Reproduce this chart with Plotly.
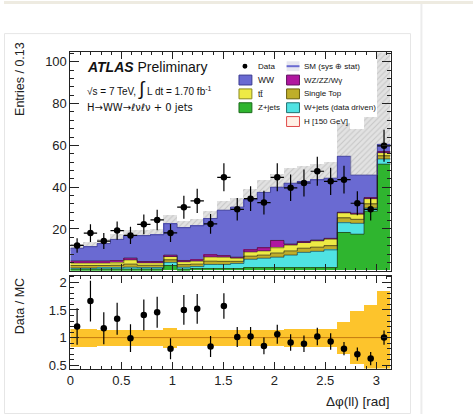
import numpy as np
import plotly.graph_objects as go

W, H = 473, 418
def px(v): return v / W
def py(v): return 1 - v / H

# ---------------- data ----------------
N_BINS = 24
BIN_WIDTH = np.pi / N_BINS
bin_low = np.arange(N_BINS) * BIN_WIDTH
bin_centers = bin_low + BIN_WIDTH / 2
bin_edges = np.append(bin_low, np.pi)

data = [12.1, 18.0, 14.2, 19.2, 16.9, 22.2, 24.3, 18.1, 30.4, 33.4, 22.4, 44.7,
        29.4, 34.5, 32.6, 44.7, 39.7, 42.0, 47.6, 42.8, 43.6, 32.3, 29.4, 59.8]
data_err = [3.5, 4.2, 3.8, 4.4, 4.1, 4.7, 4.9, 4.3, 5.5, 5.8, 4.7, 6.7,
            5.4, 5.9, 5.7, 6.7, 6.3, 6.5, 6.9, 6.5, 6.6, 5.7, 5.4, 7.7]

zjets = [0.8, 0.8, 0.8, 0.8, 0.8, 0.8, 0.8, 2.5, 0.8, 1.0, 1.0, 1.0,
         1.0, 1.5, 1.5, 1.5, 1.5, 1.5, 1.5, 1.5, 18.3, 17.5, 28.5, 51.0]
wjets = [0.5, 0.5, 0.6, 0.6, 0.9, 0.7, 0.7, 1.5, 0.9, 1.0, 2.0, 2.0,
         2.5, 4.0, 4.5, 5.0, 6.0, 7.3, 7.8, 8.5, 4.7, 5.2, 1.5, 2.5]
stop = [1.2, 1.2, 1.1, 1.2, 1.5, 1.1, 1.1, 1.2, 1.2, 1.2, 1.6, 1.5,
        1.0, 1.5, 1.5, 2.0, 2.0, 2.0, 2.0, 2.0, 2.3, 1.9, 2.0, 1.5]
ttbar = [1.2, 1.2, 1.2, 1.2, 2.0, 1.2, 1.2, 1.6, 1.4, 1.4, 2.0, 2.0,
         1.5, 2.0, 2.0, 2.5, 2.8, 2.7, 3.0, 3.1, 2.4, 2.4, 2.5, 1.5]
diboson = [1.0, 1.0, 1.0, 1.0, 0.9, 0.6, 0.6, 0.7, 0.6, 0.6, 1.0, 0.7,
           0.5, 1.0, 1.5, 3.5, 0.5, 0.5, 0.4, 0.4, 0.3, 0.5, 0.5, 0.5]
ww = [6.1, 6.8, 8.3, 10.2, 10.7, 12.4, 12.8, 15.0, 15.7, 16.3, 17.4, 21.8,
      24.0, 24.0, 26.5, 25.5, 29.1, 28.7, 28.8, 28.8, 26.8, 18.3, 10.8, 3.5]

rel_err = [0.16, 0.16, 0.15, 0.15, 0.15, 0.15, 0.15, 0.18, 0.14, 0.14, 0.14, 0.14,
           0.14, 0.14, 0.15, 0.15, 0.17, 0.17, 0.17, 0.17, 0.29, 0.48, 0.60, 0.85]

ratio = [1.20, 1.66, 1.17, 1.34, 0.99, 1.41, 1.46, 0.80, 1.50, 1.52, 0.84, 1.57,
         1.01, 1.02, 0.85, 1.06, 0.91, 0.89, 1.02, 0.93, 0.80, 0.70, 0.62, 1.00]
ratio_err = [0.33, 0.37, 0.29, 0.29, 0.25, 0.28, 0.28, 0.19, 0.27, 0.27, 0.19, 0.23,
             0.18, 0.17, 0.15, 0.17, 0.15, 0.15, 0.16, 0.15, 0.12, 0.12, 0.12, 0.13]

components = [
    ("Z+jets", zjets, "#2fb52f"),
    ("W+jets (data driven)", wjets, "#4fe3e3"),
    ("Single Top", stop, "#bfae2a"),
    ("tt", ttbar, "#eeea45"),
    ("WZ/ZZ/Wg", diboson, "#b0169f"),
    ("WW", ww, "#6a6ad2"),
]

FONT = "Liberation Sans, Arial, sans-serif"

fig = go.Figure()

# ---------------- main panel ----------------
mc_total = np.sum([np.array(c[1]) for c in components], axis=0)
mc_err = mc_total * np.array(rel_err)

fig.add_trace(go.Bar(
    x=bin_centers, y=2 * mc_err, base=mc_total - mc_err, width=BIN_WIDTH,
    marker=dict(color="#dcdcdc", line=dict(width=0),
                pattern=dict(shape="/", fgcolor="#a8a8a8", bgcolor="#e2e2e2",
                             size=4, solidity=0.25)),
    xaxis="x", yaxis="y", showlegend=False, hoverinfo="skip"))

cum = np.zeros(N_BINS)
tops = []
for name, vals, col in components:
    vals = np.array(vals)
    fig.add_trace(go.Bar(
        x=bin_centers, y=vals, base=cum.copy(), width=BIN_WIDTH,
        marker=dict(color=col, line=dict(width=0)),
        xaxis="x", yaxis="y", showlegend=False, name=name))
    cum = cum + vals
    tops.append(cum.copy())

for i, t in enumerate(tops):
    col = "rgba(30,30,30,0.75)" if i < len(tops) - 1 else "rgba(60,60,140,0.9)"
    fig.add_trace(go.Scatter(
        x=bin_edges, y=np.append(t, t[-1]), mode="lines",
        line=dict(shape="hv", color=col, width=0.8),
        xaxis="x", yaxis="y", showlegend=False, hoverinfo="skip"))

fig.add_trace(go.Scatter(
    x=bin_centers, y=data, mode="markers",
    marker=dict(color="black", size=6.5),
    error_y=dict(type="data", array=data_err, color="black", thickness=1.2, width=0),
    error_x=dict(type="constant", value=BIN_WIDTH / 2, color="black", thickness=1.2, width=0),
    xaxis="x", yaxis="y", showlegend=False, name="Data"))

# ---------------- ratio panel ----------------
rel = np.array(rel_err)
fig.add_trace(go.Bar(
    x=bin_centers, y=2 * rel, base=1 - rel, width=BIN_WIDTH,
    marker=dict(color="#fdc42c", line=dict(width=0)),
    xaxis="x2", yaxis="y2", showlegend=False, hoverinfo="skip"))
fig.add_trace(go.Scatter(
    x=[0, np.pi], y=[1, 1], mode="lines",
    line=dict(color="#c47a10", width=1),
    xaxis="x2", yaxis="y2", showlegend=False, hoverinfo="skip"))
fig.add_trace(go.Scatter(
    x=bin_centers, y=ratio, mode="markers",
    marker=dict(color="black", size=6.5),
    error_y=dict(type="data", array=ratio_err, color="black", thickness=1.2, width=0),
    xaxis="x2", yaxis="y2", showlegend=False, name="Data / MC"))

tickfont = dict(family=FONT, size=13, color="#222")
common = dict(showline=True, linecolor="#222", linewidth=1, mirror="ticks",
              ticks="inside", tickcolor="#222", showgrid=False, zeroline=False,
              tickfont=tickfont)

fig.update_layout(
    width=W, height=H, margin=dict(l=0, r=0, t=0, b=0),
    paper_bgcolor="white", plot_bgcolor="white",
    barmode="overlay", bargap=0,
    xaxis=dict(domain=[px(67), px(390)], range=[0, np.pi], anchor="y",
               showticklabels=False, tickvals=[0, 0.5, 1, 1.5, 2, 2.5, 3], ticklen=7,
               minor=dict(dtick=0.1, tick0=0, ticks="inside", ticklen=3, tickcolor="#222"),
               **common),
    yaxis=dict(domain=[py(273), py(52)], range=[0, 104.5], anchor="x",
               tickvals=[20, 40, 60, 80, 100], ticktext=["20", "40", "60", "80", "100"],
               ticklen=9,
               minor=dict(dtick=4, tick0=0, ticks="inside", ticklen=4, tickcolor="#222"),
               **common),
    xaxis2=dict(domain=[px(67), px(390)], range=[0, np.pi], anchor="y2",
                tickvals=[0, 0.5, 1, 1.5, 2, 2.5, 3], ticktext=["0", "0.5", "1", "1.5", "2", "2.5", "3"],
                ticklen=7,
                minor=dict(dtick=0.1, tick0=0, ticks="inside", ticklen=3, tickcolor="#222"),
                **common),
    yaxis2=dict(domain=[py(372), py(278)], range=[0.44, 2.12], anchor="x2",
                tickvals=[0.5, 1, 1.5, 2], ticktext=["0.5", "1", "1.5", "2"], ticklen=9,
                minor=dict(dtick=0.1, tick0=0, ticks="inside", ticklen=4, tickcolor="#222"),
                **common),
)

ann = []
def text(x, y, s, size, anchor="left", **kw):
    ann.append(dict(x=px(x), y=py(y), xref="paper", yref="paper", text=s,
                    showarrow=False, xanchor=anchor, yanchor="middle",
                    font=dict(family=kw.get("family", FONT), size=size, color=kw.get("color", "#111")),
                    textangle=kw.get("angle", 0)))

text(82, 67, "<b><i>ATLAS</i></b> Preliminary", 14)
text(82, 89, "√s = 7 TeV, <span style='font-size:19px'>∫</span> L dt = 1.70 fb<sup>-1</sup>", 10)
text(82, 108, "H→WW→ℓνℓν + 0 jets", 10, family="DejaVu Sans, Liberation Sans, sans-serif")

# axis titles
text(16, 79, "Entries / 0.13", 12.5, anchor="center", angle=-90, color="#222")
text(16, 309, "Data / MC", 12.5, anchor="center", angle=-90, color="#222")
text(391, 405, "Δφ(ll) [rad]", 13.5, anchor="right", color="#222")

# legend
shapes = []
def box(x0, y0, fill, line):
    shapes.append(dict(type="rect", xref="paper", yref="paper",
                       x0=px(x0), x1=px(x0 + 13), y0=py(y0 + 5), y1=py(y0 - 5),
                       fillcolor=fill, line=dict(color=line, width=1)))

shapes.append(dict(type="circle", xref="paper", yref="paper",
                   x0=px(240.5), x1=px(245.5), y0=py(68.5), y1=py(63.5),
                   fillcolor="black", line=dict(width=0)))
text(254, 66, "Data", 8)
box(237, 80, "#6a6ad2", "#3a3a90"); text(254, 80, "WW", 8.5)
box(237, 94, "#eeea45", "#8a8a20"); text(254, 94, "tt̄", 8.5)
box(237, 108, "#2fb52f", "#1a6a1a"); text(254, 108, "Z+jets", 8)

shapes.append(dict(type="rect", xref="paper", yref="paper",
                   x0=px(285), x1=px(298), y0=py(71), y1=py(61),
                   fillcolor="#e6e6f0", line=dict(width=0)))
shapes.append(dict(type="line", xref="paper", yref="paper",
                   x0=px(285), x1=px(298), y0=py(66), y1=py(66),
                   line=dict(color="#6a6ad2", width=2)))
text(301, 66, "SM (sys ⊕ stat)", 8)
box(285, 80, "#b0169f", "#601060"); text(301, 80, "WZ/ZZ/Wγ", 8)
box(285, 94, "#bfae2a", "#6a6010"); text(301, 94, "Single Top", 8)
box(285, 108, "#4fe3e3", "#207070"); text(301, 108, "W+jets (data driven)", 8)
box(285, 122, "#fff0e6", "#e04848"); text(301, 122, "H [150 GeV]", 8)

# page decorations
shapes.append(dict(type="rect", xref="paper", yref="paper", x0=0, x1=1, y0=py(3), y1=1,
                   fillcolor="#eeebe1", line=dict(width=0), layer="below"))
shapes.append(dict(type="rect", xref="paper", yref="paper", x0=px(0.5), x1=px(410), y0=py(417.5), y1=py(33),
                   fillcolor="rgba(0,0,0,0)", line=dict(color="#e6e6e6", width=1), layer="below"))
shapes.append(dict(type="line", xref="paper", yref="paper", x0=px(421), x1=px(421), y0=py(418), y1=py(3),
                   line=dict(color="#ececec", width=2), layer="below"))

fig.update_layout(annotations=ann, shapes=shapes)
fig.write_html("out.html")
